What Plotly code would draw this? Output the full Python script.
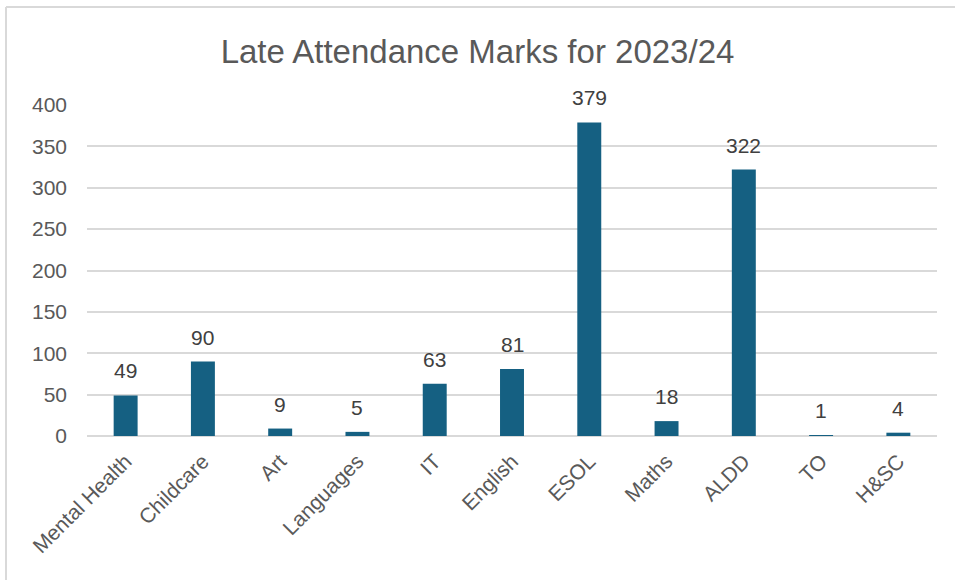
import plotly.graph_objects as go

categories = ["Mental Health", "Childcare", "Art", "Languages", "IT", "English",
              "ESOL", "Maths", "ALDD", "TO", "H&SC"]
late_marks = [49, 90, 9, 5, 63, 81, 379, 18, 322, 1, 4]
y_ticks = [0, 50, 100, 150, 200, 250, 300, 350, 400]

W, H = 955, 580
L, R, T, B = 87, 18, 105, 144
pw, ph = W - L - R, H - T - B
FONT = "Liberation Sans, Arial, sans-serif"

def px_x(px):
    return (px - L) / pw

def px_y(py):
    return (H - B - py) / ph

fig = go.Figure(go.Bar(
    x=categories,
    y=late_marks,
    marker=dict(color="#156082", line=dict(width=0)),
    width=0.31,
    hoverinfo="x+y",
))

annotations = [
    dict(x=c, y=v, xref="x", yref="y", text=str(v), showarrow=False,
         yanchor="bottom", xanchor="center", yshift=11,
         font=dict(family=FONT, size=21, color="#404040"))
    for c, v in zip(categories, late_marks)
]

fig.update_layout(
    width=W, height=H,
    margin=dict(l=L, r=R, t=T, b=B),
    paper_bgcolor="white",
    plot_bgcolor="white",
    showlegend=False,
    annotations=annotations,
    title=dict(
        text="Late Attendance Marks for 2023/24",
        x=0.5, xanchor="center",
        y=1 - 51 / H, yanchor="middle",
        font=dict(family=FONT, size=33, color="#595959"),
    ),
    xaxis=dict(
        tickangle=-45,
        tickfont=dict(family=FONT, size=21, color="#595959"),
        showgrid=False,
        showline=False,
        ticks="",
        ticklabelstandoff=8,
    ),
    yaxis=dict(
        range=[0, 400],
        tickvals=y_ticks,
        tickfont=dict(family=FONT, size=21, color="#595959"),
        showgrid=True,
        gridcolor="#d9d9d9",
        gridwidth=2,
        zeroline=True,
        zerolinecolor="#d9d9d9",
        zerolinewidth=2,
        showline=False,
        ticks="",
        ticklabelstandoff=19,
    ),
    shapes=[
        dict(type="line", xref="paper", yref="paper",
             x0=px_x(6), x1=px_x(W + 5), y0=px_y(7), y1=px_y(7),
             line=dict(color="#d9d9d9", width=2)),
        dict(type="line", xref="paper", yref="paper",
             x0=px_x(6), x1=px_x(6), y0=px_y(7), y1=px_y(H + 5),
             line=dict(color="#d9d9d9", width=2)),
    ],
)

fig.write_html("out.html")
